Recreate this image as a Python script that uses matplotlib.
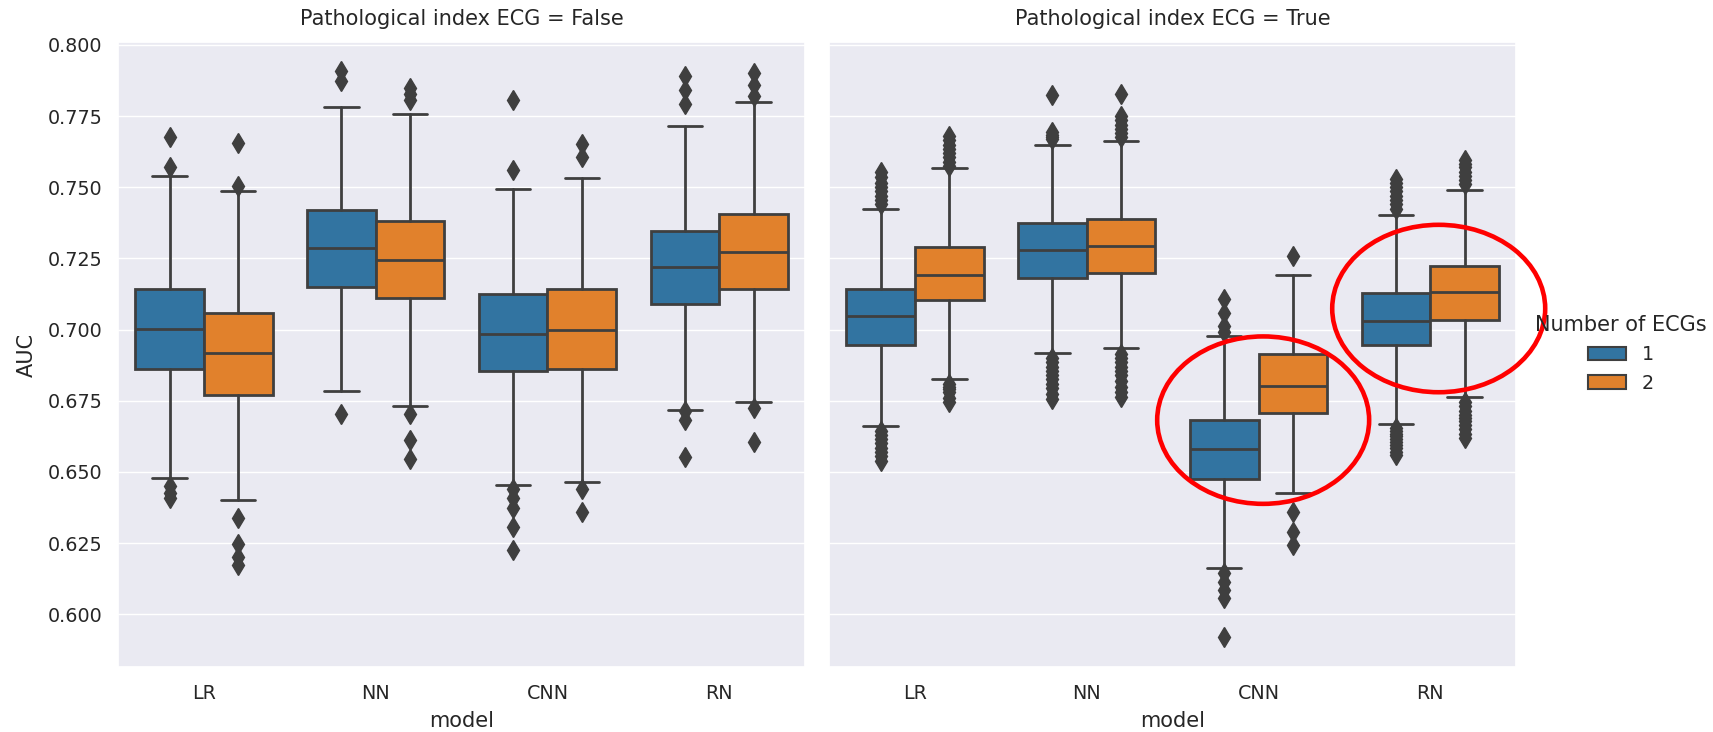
import numpy as np
import matplotlib.pyplot as plt
import seaborn as sns
from matplotlib.patches import Patch, Ellipse

# categories
models = ['LR', 'NN', 'CNN', 'RN']
n_ecgs = ['1', '2']
panel_titles = ['Pathological index ECG = False', 'Pathological index ECG = True']

# --- Pathological index ECG = False ---
f1_med = [0.7003, 0.7285, 0.6985, 0.7220]
f1_q1 = [0.6860, 0.7151, 0.6855, 0.7091]
f1_q3 = [0.7143, 0.7421, 0.7124, 0.7345]
f1_lo = [0.6478, 0.6785, 0.6455, 0.6718]
f1_hi = [0.7541, 0.7783, 0.7494, 0.7714]
f1_fliers = [[0.7678, 0.7570, 0.6450, 0.6427, 0.6410],
             [0.7907, 0.7872, 0.6704],
             [0.7808, 0.7560, 0.6439, 0.6410, 0.6375, 0.6306, 0.6227],
             [0.7890, 0.7843, 0.7791, 0.6715, 0.6683, 0.6552]]

f2_med = [0.6919, 0.7244, 0.7000, 0.7273]
f2_q1 = [0.6771, 0.7110, 0.6862, 0.7142]
f2_q3 = [0.7058, 0.7380, 0.7143, 0.7407]
f2_lo = [0.6402, 0.6732, 0.6466, 0.6747]
f2_hi = [0.7485, 0.7758, 0.7531, 0.7798]
f2_fliers = [[0.7657, 0.7503, 0.6340, 0.6248, 0.6202, 0.6173],
             [0.7849, 0.7826, 0.7808, 0.6704, 0.6612, 0.6545],
             [0.7651, 0.7605, 0.6439, 0.6360],
             [0.7901, 0.7860, 0.7822, 0.6723, 0.6606]]

# --- Pathological index ECG = True ---
t1_med = [0.7046, 0.7278, 0.6579, 0.7031]
t1_q1 = [0.6947, 0.7182, 0.6475, 0.6947]
t1_q3 = [0.7144, 0.7373, 0.6683, 0.7130]
t1_lo = [0.6661, 0.6918, 0.6164, 0.6669]
t1_hi = [0.7425, 0.7647, 0.6976, 0.7402]
t1_fliers = [[0.7555, 0.7535, 0.7515, 0.7500, 0.7485, 0.7470, 0.7455, 0.7440,
              0.6645, 0.6630, 0.6615, 0.6600, 0.6585, 0.6570, 0.6555, 0.6540],
             [0.7824, 0.7694, 0.7685, 0.7678, 0.7670,
              0.6900, 0.6885, 0.6870, 0.6855, 0.6840, 0.6825, 0.6810, 0.6795, 0.6775, 0.6755],
             [0.7106, 0.7060, 0.7014, 0.6990, 0.6144, 0.6115, 0.6086, 0.6058, 0.5922],
             [0.7530, 0.7515, 0.7500, 0.7485, 0.7470, 0.7455, 0.7440, 0.7425,
              0.6655, 0.6645, 0.6635, 0.6625, 0.6615, 0.6605, 0.6595, 0.6585, 0.6570, 0.6560]]

t2_med = [0.7193, 0.7295, 0.6802, 0.7132]
t2_q1 = [0.7103, 0.7199, 0.6706, 0.7034]
t2_q3 = [0.7289, 0.7390, 0.6916, 0.7222]
t2_lo = [0.6828, 0.6935, 0.6427, 0.6762]
t2_hi = [0.7566, 0.7664, 0.7191, 0.7492]
t2_fliers = [[0.7679, 0.7665, 0.7650, 0.7635, 0.7620, 0.7605, 0.7590, 0.7575,
              0.6810, 0.6800, 0.6790, 0.6780, 0.6760, 0.6744],
             [0.7828, 0.7750, 0.7735, 0.7720, 0.7705, 0.7690, 0.7675,
              0.6915, 0.6900, 0.6885, 0.6870, 0.6855, 0.6840, 0.6820, 0.6800, 0.6780, 0.6762],
             [0.7260, 0.6358, 0.6289, 0.6242],
             [0.7595, 0.7582, 0.7570, 0.7555, 0.7540, 0.7525, 0.7510,
              0.6745, 0.6730, 0.6715, 0.6700, 0.6690, 0.6680, 0.6665, 0.6650, 0.6635, 0.6620]]

# highlighted groups on the right panel: (x centre, AUC centre, width, height)
highlights = [(2.027, 0.6682, 1.234, 0.0588),
              (3.049, 0.7074, 1.240, 0.0588)]

sns.set_theme(style='darkgrid', font_scale=1.25)
plt.rcParams['font.family'] = ['DejaVu Sans']

colors = ['#3274a1', '#e1812c']
line_gray = '#3f3f3f'


def make_stats(med, q1, q3, lo, hi, fliers):
    return [dict(med=med[i], q1=q1[i], q3=q3[i], whislo=lo[i], whishi=hi[i],
                 fliers=np.array(fliers[i])) for i in range(len(med))]


panels = [
    [make_stats(f1_med, f1_q1, f1_q3, f1_lo, f1_hi, f1_fliers),
     make_stats(f2_med, f2_q1, f2_q3, f2_lo, f2_hi, f2_fliers)],
    [make_stats(t1_med, t1_q1, t1_q3, t1_lo, t1_hi, t1_fliers),
     make_stats(t2_med, t2_q1, t2_q3, t2_lo, t2_hi, t2_fliers)],
]

fig = plt.figure(figsize=(17.13, 7.32), dpi=100)
ax1 = fig.add_axes([0.0689, 0.0888, 0.4011, 0.8538])
ax2 = fig.add_axes([0.484, 0.0888, 0.4011, 0.8538], sharey=ax1)
axes = [ax1, ax2]

x = np.arange(len(models))
for ax, title, panel in zip(axes, panel_titles, panels):
    for h, stats in enumerate(panel):
        offs = -0.2 + 0.4 * h
        ax.bxp(stats, positions=x + offs, widths=0.4, capwidths=0.2,
               patch_artist=True, manage_ticks=False,
               boxprops=dict(facecolor=colors[h], edgecolor=line_gray, linewidth=2),
               medianprops=dict(color=line_gray, linewidth=2),
               whiskerprops=dict(color=line_gray, linewidth=2),
               capprops=dict(color=line_gray, linewidth=2),
               flierprops=dict(marker='d', markersize=10, markerfacecolor=line_gray,
                               markeredgecolor=line_gray, linestyle='none'))
    ax.set_xlim(-0.5, 3.5)
    ax.set_xticks(x)
    ax.set_xticklabels(models)
    ax.grid(False, axis='x')
    ax.set_xlabel('model', fontsize=15, labelpad=6)
    ax.set_title(title, fontsize=15, pad=12)
    ax.tick_params(axis='x', length=0, pad=12, labelsize=13.75)
    ax.tick_params(axis='y', length=0, pad=11, labelsize=13.75)

ax1.set_ylim(0.5815, 0.801)
ax1.set_yticks([0.600, 0.625, 0.650, 0.675, 0.700, 0.725, 0.750, 0.775, 0.800])
ax1.set_ylabel('AUC', fontsize=15, labelpad=8)
ax2.tick_params(axis='y', labelleft=False)

for cx, cy, w, hgt in highlights:
    ax2.add_patch(Ellipse((cx, cy), w, hgt, fill=False, edgecolor='#ff0000',
                          linewidth=3.3, clip_on=False, zorder=10))

handles = [Patch(facecolor=colors[i], edgecolor=line_gray, linewidth=1.5) for i in range(2)]
fig.legend(handles, n_ecgs, title='Number of ECGs', loc='center',
           bbox_to_anchor=(1621 / 1713, 1 - 354 / 732), frameon=False,
           fontsize=13.75, title_fontsize=15)

fig.savefig('out.png', dpi=100)
